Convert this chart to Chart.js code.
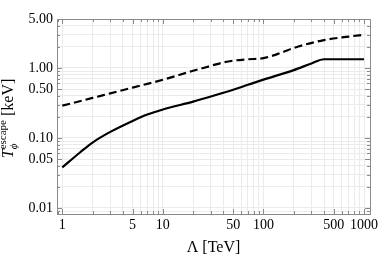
<!DOCTYPE html>
<html>
<head>
  <title>T escape vs Lambda</title>
  <script src="https://cdn.jsdelivr.net/npm/chart.js"></script>
  <style>
    html, body { margin: 0; padding: 0; background: #fff; }
  </style>
</head>
<body>
<canvas id="chart" width="382" height="257"></canvas>

<script>
  // values (log-log)
  const lambdaSolid = [1, 1.5, 2, 3, 5, 7, 10, 20, 30, 50, 70, 100, 200, 300, 400, 1000];
  const tSolid      = [0.038, 0.062, 0.086, 0.122, 0.175, 0.216, 0.255, 0.33, 0.39, 0.488, 0.574, 0.68, 0.93, 1.16, 1.33, 1.33];

  const lambdaDashed = [1, 2, 3, 5, 10, 20, 30, 40, 50, 70, 100, 150, 200, 400, 700, 1000];
  const tDashed      = [0.289, 0.373, 0.434, 0.524, 0.677, 0.91, 1.07, 1.2, 1.27, 1.33, 1.38, 1.65, 1.93, 2.5, 2.8, 2.98];

  const xLabels = [1, 5, 10, 50, 100, 500, 1000];
  const yLabels = [0.01, 0.05, 0.1, 0.5, 1, 5];

  const serif = "'Liberation Serif', 'DejaVu Serif', serif";

  function logTicks(min, max) {
    const out = [];
    for (let e = -3; e <= 4; e++) {
      for (let m = 1; m <= 9; m++) {
        const v = +(m * Math.pow(10, e)).toPrecision(3);
        if (v >= min * 0.999 && v <= max * 1.001) out.push({ value: v });
      }
    }
    return out;
  }

  const isLabel = (list, v) => list.some(l => Math.abs(l - v) / l < 1e-6);

  // inward ticks and top/right frame
  const framePlugin = {
    id: 'frame',
    afterDraw(chart) {
      const { ctx, chartArea: a, scales } = chart;
      ctx.save();
      ctx.strokeStyle = '#8a8a8a';
      ctx.lineWidth = 1;
      ctx.beginPath();
      ctx.moveTo(a.left, a.top + 0.5);
      ctx.lineTo(a.right + 0.5, a.top + 0.5);
      ctx.lineTo(a.right + 0.5, a.bottom);
      ctx.stroke();

      ctx.beginPath();
      scales.x.ticks.forEach(t => {
        const px = Math.round(scales.x.getPixelForValue(t.value)) + 0.5;
        const len = isLabel(xLabels, t.value) ? 5 : 3;
        ctx.moveTo(px, a.bottom); ctx.lineTo(px, a.bottom - len);
        ctx.moveTo(px, a.top); ctx.lineTo(px, a.top + len);
      });
      scales.y.ticks.forEach(t => {
        const py = Math.round(scales.y.getPixelForValue(t.value)) + 0.5;
        const len = isLabel(yLabels, t.value) ? 5 : 3;
        ctx.moveTo(a.left, py); ctx.lineTo(a.left + len, py);
        ctx.moveTo(a.right, py); ctx.lineTo(a.right - len, py);
      });
      ctx.stroke();

      // y axis title: T_phi^escape [keV]
      const parts = [
        { text: 'T', font: 'italic 16px ' + serif, dy: 0 },
        { text: 'ϕ', font: 'italic 11px ' + serif, dy: 4, stack: true },
        { text: 'escape', font: '11px ' + serif, dy: -7 },
        { text: ' [keV]', font: '16px ' + serif, dy: 0 }
      ];
      ctx.fillStyle = '#000';
      ctx.textBaseline = 'alphabetic';
      let total = 0;
      parts.forEach(p => {
        ctx.font = p.font;
        p.w = ctx.measureText(p.text).width;
        if (!p.stack) total += p.w;
      });
      ctx.translate(13, (a.top + a.bottom) / 2 + 2);
      ctx.rotate(-Math.PI / 2);
      let x = -total / 2;
      parts.forEach(p => {
        ctx.font = p.font;
        ctx.fillText(p.text, x, p.dy);
        if (!p.stack) x += p.w;
      });
      ctx.restore();
    }
  };

  new Chart(document.getElementById('chart').getContext('2d'), {
    type: 'line',
    data: {
      datasets: [
        {
          data: lambdaSolid.map((x, i) => ({ x: x, y: tSolid[i] })),
          borderColor: '#000',
          borderWidth: 2.2,
          pointRadius: 0,
          cubicInterpolationMode: 'monotone',
          fill: false
        },
        {
          data: lambdaDashed.map((x, i) => ({ x: x, y: tDashed[i] })),
          borderColor: '#000',
          borderWidth: 2.2,
          borderDash: [8, 4],
          pointRadius: 0,
          cubicInterpolationMode: 'monotone',
          fill: false
        }
      ]
    },
    options: {
      responsive: false,
      animation: false,
      layout: { padding: { top: 19, right: 12, left: 0, bottom: 0 } },
      plugins: { legend: { display: false }, tooltip: { enabled: false } },
      scales: {
        x: {
          type: 'logarithmic',
          min: 0.886,
          max: 1146,
          afterBuildTicks: s => { s.ticks = logTicks(s.min, s.max); },
          afterFit: s => { s.height = 43; },
          grid: { color: '#ebebeb', drawTicks: false },
          border: { color: '#8a8a8a' },
          ticks: {
            autoSkip: false,
            maxRotation: 0,
            padding: 3,
            color: '#000',
            font: { family: serif, size: 14 },
            callback: v => isLabel(xLabels, v) ? String(v) : ''
          },
          title: {
            display: true,
            text: 'Λ [TeV]',
            color: '#000',
            padding: 0,
            font: { family: serif, size: 16 }
          }
        },
        y: {
          type: 'logarithmic',
          min: 0.0082,
          max: 5,
          afterBuildTicks: s => { s.ticks = logTicks(s.min, s.max); },
          afterFit: s => { s.width = 57; },
          grid: { color: '#ebebeb', drawTicks: false },
          border: { color: '#8a8a8a' },
          ticks: {
            autoSkip: false,
            padding: 4,
            color: '#000',
            font: { family: serif, size: 14 },
            callback: v => isLabel(yLabels, v) ? v.toFixed(2) : ''
          }
        }
      }
    },
    plugins: [framePlugin]
  });
</script>
</body>
</html>
